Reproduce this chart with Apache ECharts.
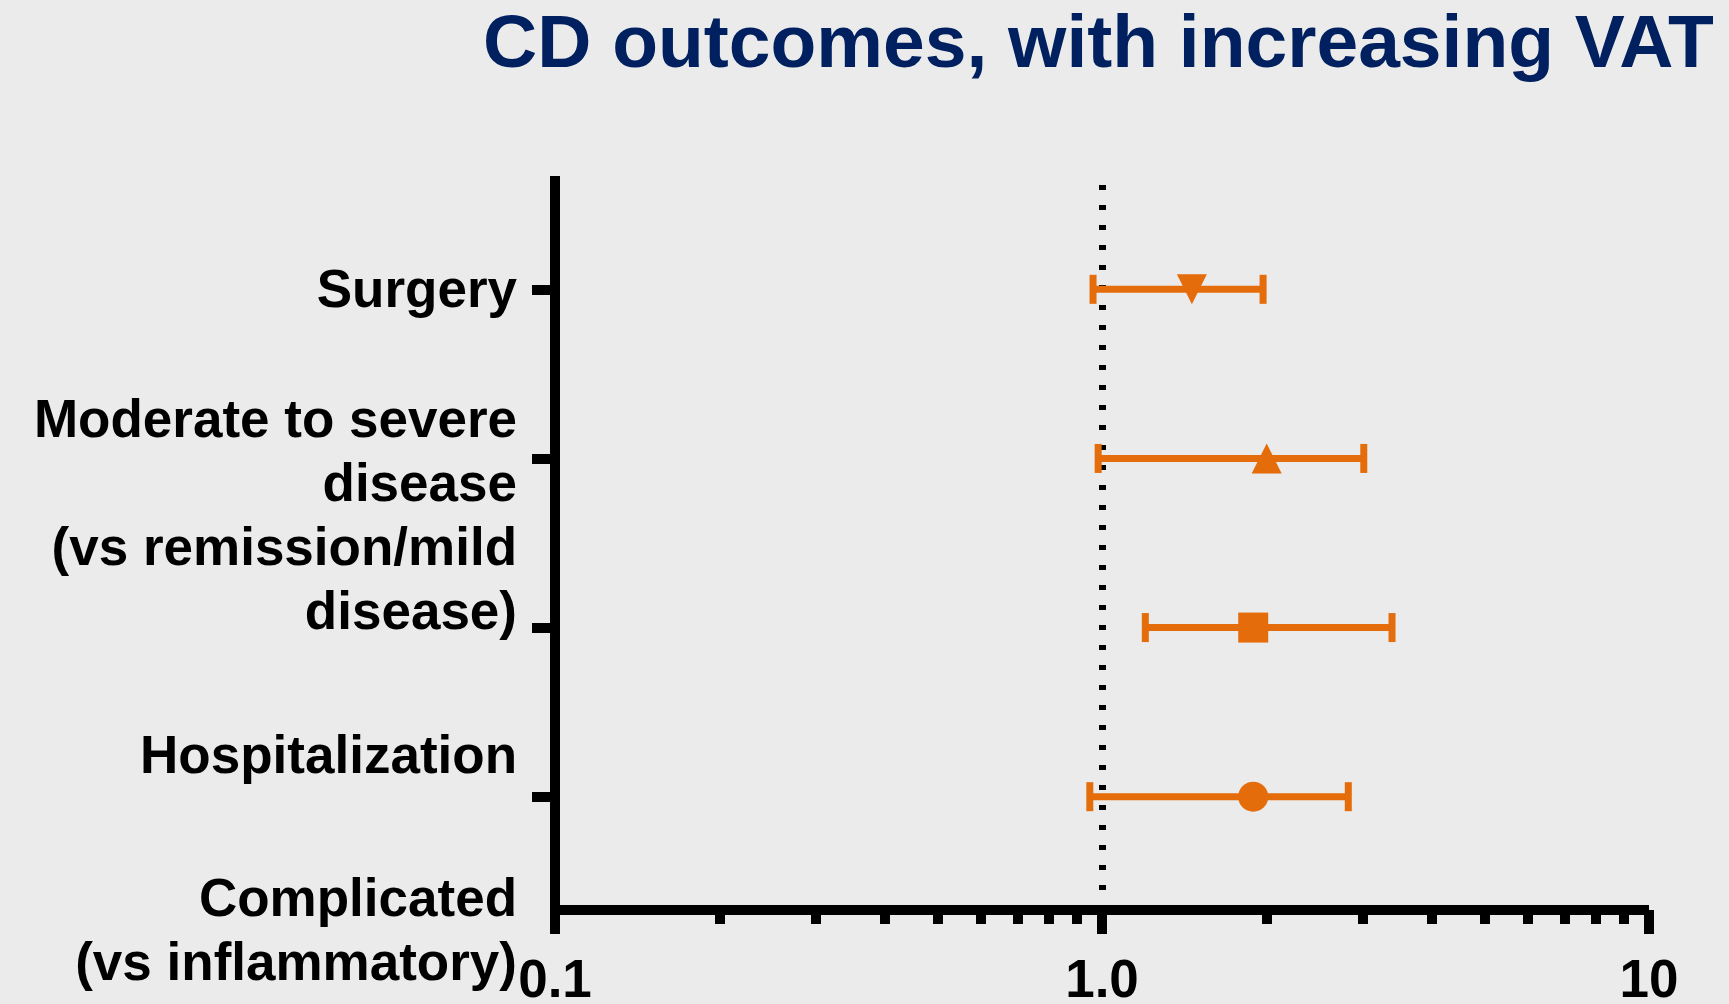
<!DOCTYPE html>
<html><head><meta charset="utf-8">
<script src="https://cdn.jsdelivr.net/npm/echarts@6/dist/echarts.min.js"></script>
<style>html,body{margin:0;padding:0;background:#EBEBEB}#c{width:1729px;height:1004px}</style>
</head><body><div id="c"></div>
<script>
// ---- data ----
const titleText = 'CD outcomes, with increasing VAT';
const outcomeLabels = ['Surgery', 'Moderate to severe\ndisease\n(vs remission/mild\ndisease)', 'Hospitalization', 'Complicated\n(vs inflammatory)'];
const rowPositions = [4, 3, 2, 1];
const oddsRatio = [1.46, 2.00, 1.89, 1.89];
const ciLower = [0.963, 0.984, 1.20, 0.950];
const ciUpper = [1.97, 3.01, 3.39, 2.82];
const xTickValues = [0.1, 1, 10];
const xTickLabels = ['0.1', '1.0', '10'];
const xMinorTickValues = [0.2, 0.3, 0.4, 0.5, 0.6, 0.7, 0.8, 0.9, 2, 3, 4, 5, 6, 7, 8, 9];
const yTickValues = [1, 2, 3, 4];
const referenceValue = 1;

// ---- layout / style ----
const labelAnchors = [3.984, 2.648, 1.224, 0.383];
const labelLeadBlank = [0, 0, 0, 1];
const markerShapes = ['triangle', 'triangle', 'rect', 'circle'];
const markerRotate = [180, 0, 0, 0];
const ORANGE = '#E46C0A';
const FONT = "'Liberation Sans', Arial, sans-serif";

const chart = echarts.init(document.getElementById('c'), null, {renderer: 'canvas'});
chart.setOption({
  backgroundColor: '#EBEBEB',
  animation: false,
  textStyle: {fontFamily: FONT},
  title: {
    text: titleText, left: 483, top: 8, padding: 0,
    textStyle: {fontSize: 75, fontWeight: 'bold', color: '#002060', fontFamily: FONT, lineHeight: 76}
  },
  grid: {left: 555, right: 80, top: 176, bottom: 94, containLabel: false, outerBoundsMode: 'none'},
  xAxis: [{
    type: 'log', logBase: 10, min: 0.1, max: 10, position: 'bottom',
    axisLine: {show: true, onZero: false, lineStyle: {color: '#000', width: 10, cap: 'butt'}},
    axisTick: {show: true, customValues: xTickValues, length: 24, lineStyle: {color: '#000', width: 10, cap: 'butt'}},
    axisLabel: {
      customValues: xTickValues,
      formatter: v => { let bi = 0; xTickValues.forEach((t, i) => { if (Math.abs(Math.log10(t) - Math.log10(v)) < Math.abs(Math.log10(xTickValues[bi]) - Math.log10(v))) bi = i; }); return xTickLabels[bi]; },
      fontSize: 53, fontWeight: 'bold', color: '#000', margin: 46, lineHeight: 53, fontFamily: FONT
    },
    splitLine: {show: false}
  }, {
    type: 'log', logBase: 10, min: 0.1, max: 10, position: 'bottom',
    axisLine: {show: false, onZero: false},
    axisTick: {show: true, customValues: xMinorTickValues, length: 14, lineStyle: {color: '#000', width: 10, cap: 'butt'}},
    axisLabel: {show: false},
    splitLine: {show: false}
  }],
  yAxis: {
    type: 'value', min: 0.33, max: 4.67,
    axisLine: {show: true, onZero: false, lineStyle: {color: '#000', width: 10, cap: 'butt'}},
    axisTick: {show: true, customValues: yTickValues, length: 23, lineStyle: {color: '#000', width: 10, cap: 'butt'}},
    axisLabel: {
      customValues: labelAnchors,
      formatter: v => { let bi = 0; labelAnchors.forEach((a, i) => { if (Math.abs(a - v) < Math.abs(labelAnchors[bi] - v)) bi = i; }); return '\n'.repeat(labelLeadBlank[bi]) + outcomeLabels[bi]; },
      fontSize: 53, fontWeight: 'bold', color: '#000', lineHeight: 64, margin: 38, align: 'right', fontFamily: FONT
    },
    splitLine: {show: false}
  },
  series: [{
    type: 'custom',
    z: 6,
    xAxisIndex: 0,
    data: rowPositions.map((p, i) => [ciLower[i], ciUpper[i], p]),
    encode: {x: [0, 1], y: 2},
    renderItem: (params, api) => {
      const lo = api.coord([api.value(0), api.value(2)]);
      const hi = api.coord([api.value(1), api.value(2)]);
      const lw = 7, ch = 29;
      return {type: 'group', children: [
        {type: 'rect', shape: {x: lo[0], y: lo[1] - lw / 2, width: hi[0] - lo[0], height: lw}, style: {fill: ORANGE}},
        {type: 'rect', shape: {x: lo[0] - lw / 2, y: lo[1] - ch / 2, width: lw, height: ch}, style: {fill: ORANGE}},
        {type: 'rect', shape: {x: hi[0] - lw / 2, y: hi[1] - ch / 2, width: lw, height: ch}, style: {fill: ORANGE}}
      ]};
    },
    markLine: {
      silent: true, symbol: ['none', 'none'], label: {show: false}, z: 1,
      lineStyle: {color: '#000', width: 7, type: [5, 15], cap: 'butt'},
      data: [{xAxis: referenceValue}]
    }
  }, {
    type: 'scatter',
    z: 7,
    xAxisIndex: 0,
    symbolSize: 30,
    itemStyle: {color: ORANGE, opacity: 1},
    data: rowPositions.map((p, i) => ({value: [oddsRatio[i], p], symbol: markerShapes[i], symbolRotate: markerRotate[i]}))
  }]
});
</script></body></html>
